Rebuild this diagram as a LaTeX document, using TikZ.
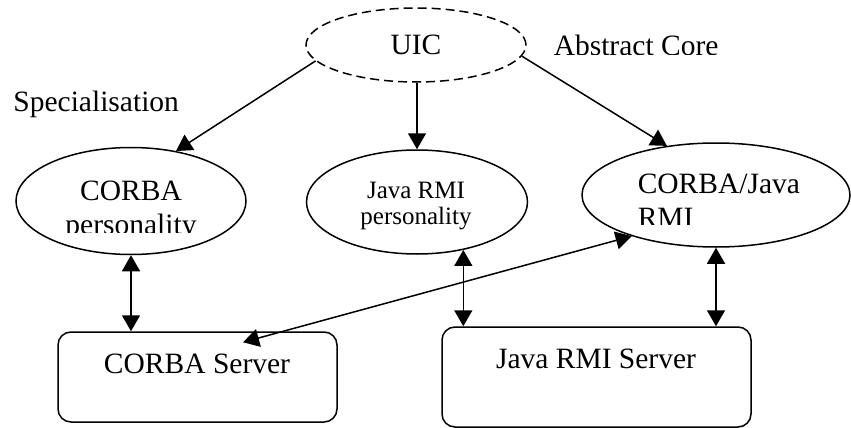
\documentclass[tikz,border=0pt]{standalone}
\usepackage{fontspec}
\setmainfont{Liberation Serif}
\usetikzlibrary{arrows.meta,calc,shapes.geometric}

\tikzset{
  oval/.style={draw, ellipse, inner sep=0pt},
  coreline/.style={dash pattern=on 9pt off 5pt},
  srvbox/.style={draw, rectangle, rounded corners=13pt, inner sep=0pt},
  big/.style={font=\fontsize{29.5}{34}\selectfont, inner sep=0pt},
  small/.style={font=\fontsize{25}{26}\selectfont, inner sep=0pt},
  link/.style={-{Triangle[length=16pt,width=18pt]}},
  twoway/.style={{Triangle[length=16pt,width=18pt]}-{Triangle[length=16pt,width=18pt]}},
}

\begin{document}
\begin{tikzpicture}[x=1pt, y=-1pt, line width=1.5pt]
  \useasboundingbox (0,0) rectangle (851,428);

  % abstract core
  \node[oval, coreline, minimum width=220pt, minimum height=74pt, big] (uic) at (416,45) {UIC};
  \begin{scope}
    \clip (540,20) rectangle (735,54.2);
    \node[big, anchor=base west] (abscore) at (553,56) {Abstract Core};
  \end{scope}
  \node[big, anchor=base west] (spec) at (12.7,111.7) {Specialisation};

  % personalities
  \node[oval, minimum width=230pt, minimum height=107pt] (cpers) at (131,201) {};
  \begin{scope}
    \clip (cpers.west |- cpers.north) rectangle (cpers.east |- 0,232.5);
    \node[big, anchor=base] (cpers1) at (131,200) {CORBA};
    \node[big, anchor=base] (cpers2) at (131,234) {personality};
  \end{scope}

  \node[oval, minimum width=221pt, minimum height=104pt] (jrmi) at (417,202) {};
  \node[small, anchor=base] (jrmi1) at (416,198.3) {Java RMI};
  \node[small, anchor=base] (jrmi2) at (416,224.5) {personality};

  \node[oval, minimum width=268pt, minimum height=104pt] (cj) at (716,195) {};
  \begin{scope}
    \clip (cj.west |- cj.north) rectangle (cj.east |- 0,224.5);
    \node[big, anchor=base west] (cj1) at (637,193.3) {CORBA/Java};
    \node[big, anchor=base west] (cj2) at (637,227.5) {RMI};
  \end{scope}

  % servers
  \node[srvbox, minimum width=279pt, minimum height=90pt] (cserver) at (197.5,377) {};
  \node[big, anchor=base] (cserverlbl) at (197,373) {CORBA Server};
  \node[srvbox, minimum width=309pt, minimum height=100pt] (jserver) at (596.5,377) {};
  \node[big, anchor=base] (jserverlbl) at (596,368.3) {Java RMI Server};

  % specialisation links
  \draw[link] (uic.189.8) -- (cpers.48.7);
  \draw[link] (uic.south -| jrmi.north) -- (jrmi.north);
  \draw[link] (uic.-6.4) -- (cj.135.6);

  % personality <-> server links
  \draw[twoway] (cpers.south) -- (cpers.south |- cserver.north);
  \draw[twoway] (jrmi.-46.5) -- (jrmi.-46.5 |- jserver.north);
  \draw[twoway] (cj.south) -- (cj.south |- jserver.north);
  \draw[twoway] (cj.206) -- ($(cserver.north)+(45.5,11)$);
\end{tikzpicture}
\end{document}
